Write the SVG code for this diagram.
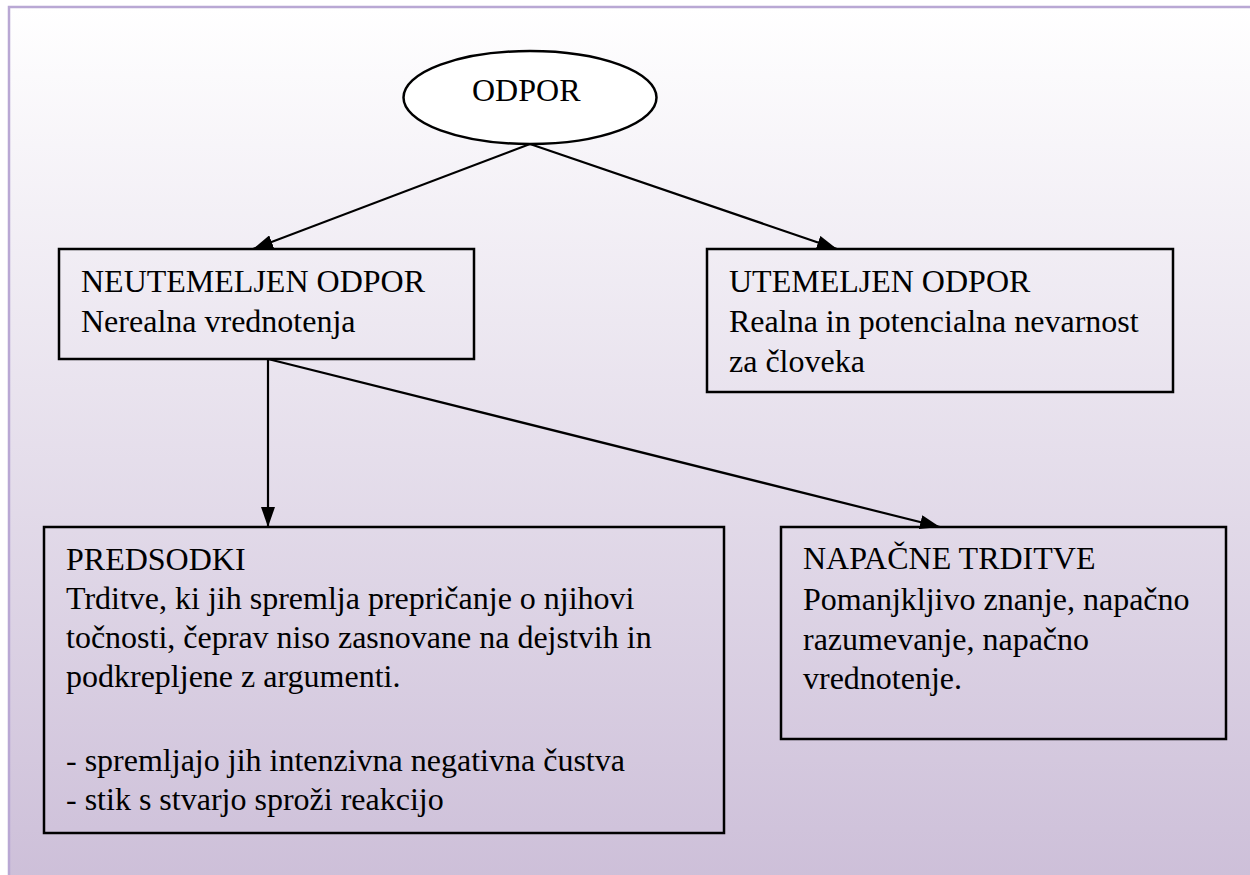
<svg xmlns="http://www.w3.org/2000/svg" width="1250" height="875" viewBox="0 0 1250 875">
<defs>
<linearGradient id="bg" x1="0" y1="0" x2="0" y2="1">
<stop offset="0" stop-color="#ffffff"/>
<stop offset="1" stop-color="#ccbed8"/>
</linearGradient>
<marker id="ah" viewBox="0 0 20 14" refX="20" refY="7" markerWidth="20" markerHeight="14" markerUnits="userSpaceOnUse" orient="auto">
<path d="M0,0 L20,7 L0,14 Z" fill="#000"/>
</marker>
</defs>
<style>
.t{font-family:'Liberation Serif','Times New Roman',Times,serif;font-size:32px;fill:#000}
.box{fill:none;stroke:#000;stroke-width:2.5}
.c{stroke:#000;stroke-width:2.2;fill:none;marker-end:url(#ah)}
</style>
<rect x="0" y="0" width="1250" height="875" fill="#fff"/>
<rect x="9" y="7" width="1260" height="890" fill="url(#bg)" stroke="#b9a8d4" stroke-width="2.5"/>
<g id="connectors">
<line class="c" x1="530" y1="144" x2="253" y2="249"/>
<line class="c" x1="530" y1="144" x2="837" y2="249"/>
<line class="c" x1="268" y1="359" x2="268" y2="527"/>
<line class="c" x1="268" y1="359" x2="940" y2="527"/>
</g>
<g id="odpor">
<ellipse cx="530" cy="97.5" rx="126.5" ry="46.5" fill="#fff" stroke="#000" stroke-width="2.5"/>
<text class="t" x="472" y="101">ODPOR</text>
</g>
<g id="neutemeljen">
<rect class="box" x="59" y="249" width="415" height="110"/>
<text class="t" x="81" y="292">NEUTEMELJEN ODPOR</text>
<text class="t" x="81" y="332">Nerealna vrednotenja</text>
</g>
<g id="utemeljen">
<rect class="box" x="707" y="249" width="466" height="143"/>
<text class="t" x="729" y="292">UTEMELJEN ODPOR</text>
<text class="t" x="729" y="332">Realna in potencialna nevarnost</text>
<text class="t" x="729" y="372">za človeka</text>
</g>
<g id="predsodki">
<rect class="box" x="44" y="527" width="680" height="306"/>
<text class="t" x="66" y="570">PREDSODKI</text>
<text class="t" x="66" y="609">Trditve, ki jih spremlja prepričanje o njihovi</text>
<text class="t" x="66" y="648">točnosti, čeprav niso zasnovane na dejstvih in</text>
<text class="t" x="66" y="687">podkrepljene z argumenti.</text>
<text class="t" x="66" y="771">- spremljajo jih intenzivna negativna čustva</text>
<text class="t" x="66" y="810">- stik s stvarjo sproži reakcijo</text>
</g>
<g id="napacne">
<rect class="box" x="781" y="527" width="445" height="212"/>
<text class="t" x="803" y="569">NAPAČNE TRDITVE</text>
<text class="t" x="803" y="610">Pomanjkljivo znanje, napačno</text>
<text class="t" x="803" y="650">razumevanje, napačno</text>
<text class="t" x="803" y="689">vrednotenje.</text>
</g>
</svg>
